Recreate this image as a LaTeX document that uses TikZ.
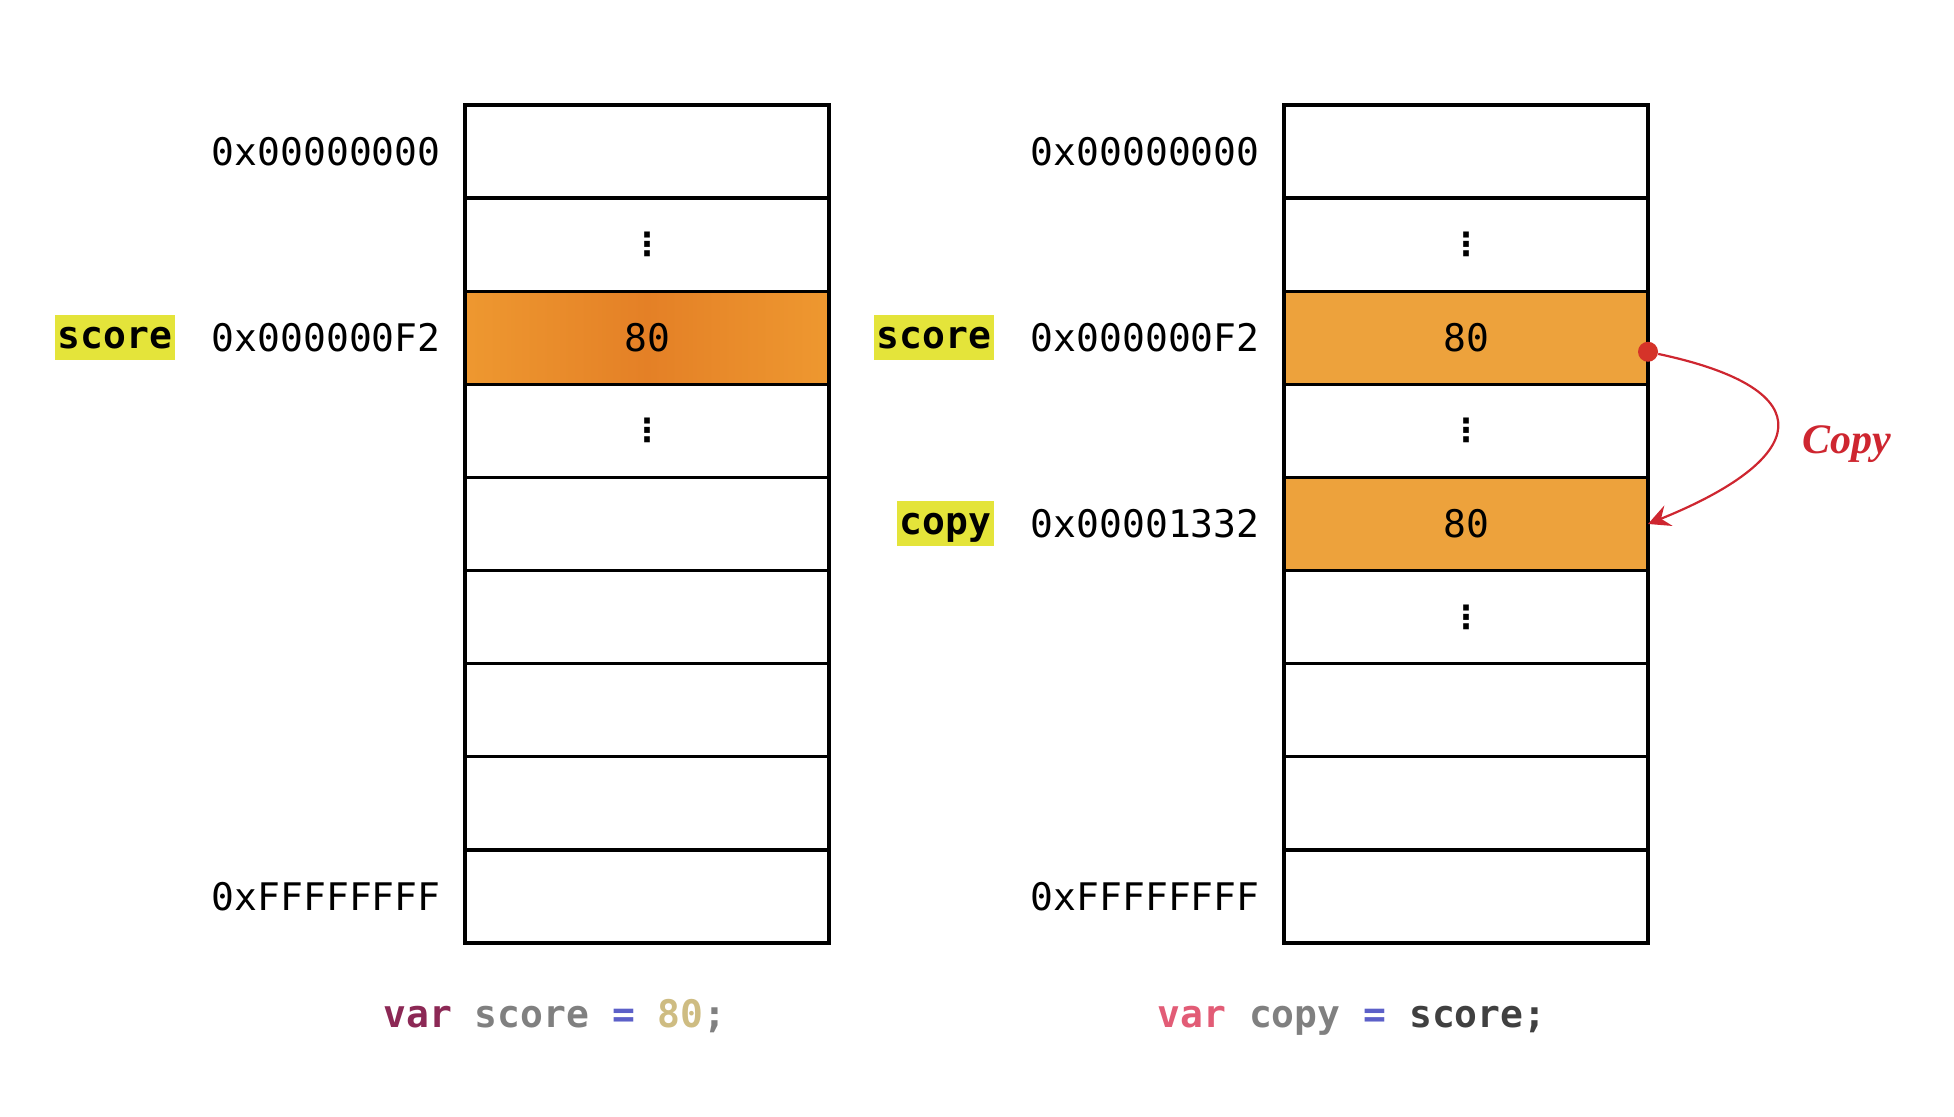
\documentclass[tikz,border=0pt]{standalone}
\usepackage{fontspec}
\setmonofont{DejaVu Sans Mono}
\newfontfamily\copyfont{Liberation Serif}
\newfontfamily\dotsfont{DejaVu Sans}
\usetikzlibrary{arrows.meta}
\usetikzlibrary{positioning}

\definecolor{hotcell}{RGB}{237,162,60}
\definecolor{hotmid}{RGB}{228,128,38}
\definecolor{hotedge}{RGB}{238,152,48}
\definecolor{marker}{RGB}{228,228,58}
\definecolor{copyred}{RGB}{206,38,48}
\definecolor{kwleft}{RGB}{140,40,85}
\definecolor{kwright}{RGB}{226,92,118}
\definecolor{opblue}{RGB}{92,96,200}
\definecolor{numtan}{RGB}{206,188,130}

\newcommand{\vd}{{\dotsfont\fontsize{16}{18}\selectfont\bfseries ⋮}}

\begin{document}
\begin{tikzpicture}
    [x=0.5pt, y=-0.5pt,
     cell/.style={rectangle, draw, line width=1.7pt, outer sep=0pt, inner sep=0pt, minimum width=182pt, minimum height=46.55pt, font=\fontsize{19}{22}\selectfont\ttfamily},
     hot/.style={cell, left color=hotedge, right color=hotedge, middle color=hotmid},
     warm/.style={cell, fill=hotcell},
     addr/.style={inner sep=0pt, font=\fontsize{19}{22}\selectfont\ttfamily},
     tag/.style={fill=marker, inner xsep=1.5pt, inner ysep=0pt, minimum height=22.5pt, text height=10.5pt, text depth=0pt, font=\fontsize{19}{22}\selectfont\ttfamily\bfseries},
     code/.style={inner sep=0pt, text height=14pt, text depth=4pt, font=\fontsize{19}{22}\selectfont\ttfamily\bfseries},
     cp/.style={-{Stealth[length=11pt, width=11pt, inset=4pt]}, draw=copyred, line width=1.1pt},
     dot/.style={circle, fill=copyred!85!orange, inner sep=0pt, minimum size=10pt}]

    \useasboundingbox (0,0) rectangle (1954,1116);

    \node [cell] (l1) at (647,151.55) {};
    \node [cell, below=0pt of l1] (l2) {\vd};
    \node [hot, below=0pt of l2] (l3) {80};
    \node [cell, below=0pt of l3] (l4) {\vd};
    \node [cell, below=0pt of l4] (l5) {};
    \node [cell, below=0pt of l5] (l6) {};
    \node [cell, below=0pt of l6] (l7) {};
    \node [cell, below=0pt of l7] (l8) {};
    \node [cell, below=0pt of l8] (l9) {};

    \node [cell] (r1) at (1466,151.55) {};
    \node [cell, below=0pt of r1] (r2) {\vd};
    \node [warm, below=0pt of r2] (r3) {80};
    \node [cell, below=0pt of r3] (r4) {\vd};
    \node [warm, below=0pt of r4] (r5) {80};
    \node [cell, below=0pt of r5] (r6) {\vd};
    \node [cell, below=0pt of r6] (r7) {};
    \node [cell, below=0pt of r7] (r8) {};
    \node [cell, below=0pt of r8] (r9) {};

    \node [addr, left=12pt of l1] (la1) {0x00000000};
    \node [addr, left=12pt of l3] (la3) {0x000000F2};
    \node [addr, left=12pt of l9] (la9) {0xFFFFFFFF};
    \node [tag, left=18pt of la3] (lv3) {score};

    \node [addr, left=12pt of r1] (ra1) {0x00000000};
    \node [addr, left=12pt of r3] (ra3) {0x000000F2};
    \node [addr, left=12pt of r5] (ra5) {0x00001332};
    \node [addr, left=12pt of r9] (ra9) {0xFFFFFFFF};
    \node [tag, left=18pt of ra3] (rv3) {score};
    \node [tag, left=18pt of ra5] (rv5) {copy};

    \node [dot] (src) at ([yshift=-7pt] r3.east) {};
    \draw [cp] (src) to [out=-12, in=22, looseness=2.6]
	node [pos=0.5, right=9pt, yshift=-8pt, font=\fontsize{21}{24}\selectfont\copyfont\bfseries\itshape, text=copyred] (lcopy) {Copy} (r5.east);

    \node [code, below=28pt of l9, xshift=-46pt] (lc) {\textcolor{kwleft}{var} \textcolor{gray}{score} \textcolor{opblue}{=} \textcolor{numtan}{80}\textcolor{gray}{;}};
    \node [code, below=28pt of r9, xshift=-57pt] (rc) {\textcolor{kwright}{var} \textcolor{gray}{copy} \textcolor{opblue}{=} \textcolor{darkgray}{score;}};
\end{tikzpicture}
\end{document}
